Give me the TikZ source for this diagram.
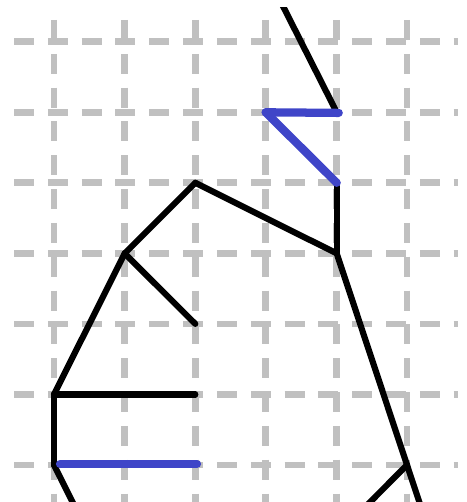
\documentclass[tikz,border=0pt]{standalone}
\usepackage{xcolor}
\definecolor{gridgray}{HTML}{C0C0C0}
\definecolor{edgeblue}{HTML}{3F45C8}
\tikzset{
    gridline/.style={gridgray,line width=3.8pt,dash pattern=on 11.4pt off 7.85pt},
    edgeblack/.style={black,line width=3.5pt,line cap=round,line join=round},
    edgecolor/.style={edgeblue,line width=4.7pt,line cap=round,line join=round}
}

\begin{document}
\begin{tikzpicture}[x=0.02cm,y=-0.02cm]
    \useasboundingbox (0,0) rectangle (466,502);
    \clip (0,8) rectangle (466,502);
    % grid
    \foreach \y in {41.7,112.3,182.8,253.4,323.9,394.5,465}
        \draw[gridline] (14,\y) -- (458,\y);
    \foreach \x in {54,124.7,195.3,265.7,336.7,407}
        \draw[gridline] (\x,20) -- (\x,510);
    % vertices
    \coordinate (top) at (265.7,-28);
    \coordinate (hingeR) at (336.7,112.3);
    \coordinate (hingeL) at (265.7,112.3);
    \coordinate (upper) at (336.7,182.8);
    \coordinate (apex) at (195.3,182.8);
    \coordinate (join) at (336.7,253.4);
    \coordinate (shoulder) at (124.7,253.4);
    \coordinate (stub) at (195.3,323.9);
    \coordinate (hip) at (54,394.5);
    \coordinate (bar) at (195.3,394.5);
    \coordinate (foot) at (54,465);
    \coordinate (knee) at (407,465);
    \coordinate (downL) at (89.3,535.6);
    \coordinate (downM) at (336.7,535.6);
    \coordinate (downR) at (430.5,535.6);
    % black edges
    \draw[edgeblack] (top) -- (hingeR);
    \draw[edgeblack] (upper) -- (join);
    \draw[edgeblack] (join) -- (apex);
    \draw[edgeblack] (apex) -- (shoulder);
    \draw[edgeblack] (shoulder) -- (stub);
    \draw[edgeblack] (shoulder) -- (hip);
    \draw[edgeblack] (hip) -- (bar);
    \draw[edgeblack] (hip) -- (foot);
    \draw[edgeblack] (foot) -- (downL);
    \draw[edgeblack] (join) -- (knee);
    \draw[edgeblack] (knee) -- (downM);
    \draw[edgeblack] (knee) -- (downR);
    % blue edges
    \draw[edgecolor] (hingeR) ++(2,0.6) -- (hingeL);
    \draw[edgecolor] (hingeL) -- (upper);
    \draw[edgecolor] (foot) ++(6,-1.2) -- ++(137,0);
\end{tikzpicture}
\end{document}
